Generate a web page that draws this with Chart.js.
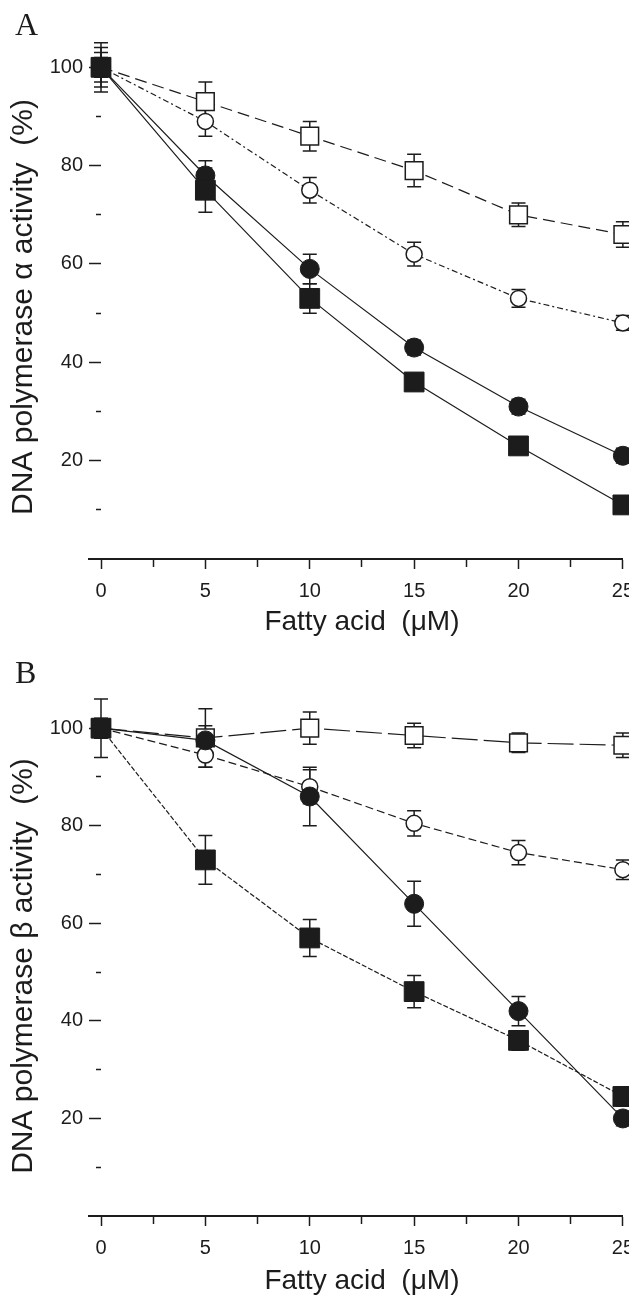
<!DOCTYPE html>
<html>
<head>
<meta charset="utf-8">
<script src="https://cdn.jsdelivr.net/npm/chart.js@4.4.1/dist/chart.umd.min.js"></script>
<style>
  html, body { margin: 0; padding: 0; background: #fff; overflow: hidden; }
  body { width: 629px; height: 1295px; position: relative; }
  .panel { position: absolute; left: 0; }
  .letter { position: absolute; left: 15px; font-family: "Liberation Serif", "DejaVu Serif", serif; font-size: 32px; line-height: 1; color: #1c1c1c; }
</style>
</head>
<body>
<div class="panel" style="top:0"><canvas id="chartA" width="644" height="645"></canvas></div>
<div class="panel" style="top:645px"><canvas id="chartB" width="644" height="655"></canvas></div>
<div class="letter" style="top:8px">A</div>
<div class="letter" style="top:656px">B</div>
<script>
// fatty acid concentration (uM)
var fattyAcid = [0, 5, 10, 15, 20, 25];
var xLabels = [0, 5, 10, 15, 20, 25];
var yLabels = [20, 40, 60, 80, 100];

// panel A - pol alpha activity (%)
var aFilledSq = [100, 75, 53, 36, 23, 11];
var aFilledSqErr = [2, 4.5, 3, 1.5, 1.5, 1];
var aFilledCirc = [100, 78, 59, 43, 31, 21];
var aFilledCircErr = [3, 3, 3, 1.5, 1.5, 1.5];
var aOpenCirc = [100, 89, 75, 62, 53, 48];
var aOpenCircErr = [4, 3, 2.6, 2.4, 1.8, 1.5];
var aOpenSq = [100, 93, 86, 79, 70, 66];
var aOpenSqErr = [5, 4, 3, 3.3, 2.4, 2.6];

// panel B - pol beta activity (%)
var bFilledSq = [100, 73, 57, 46, 36, 24.5];
var bFilledSqErr = [2, 5, 3.8, 3.3, 2, 2];
var bFilledCirc = [100, 97.5, 86, 64, 42, 20];
var bFilledCircErr = [2, 3, 6, 4.6, 3, 1.5];
var bOpenCirc = [100, 94.5, 88, 80.5, 74.5, 71];
var bOpenCircErr = [6, 2.5, 3.5, 2.6, 2.5, 2];
var bOpenSq = [100, 98, 100, 98.5, 97, 96.5];
var bOpenSqErr = [2, 6, 3.3, 2.5, 2, 2.5];

var ink = '#1c1c1c';
var sans = '"Liberation Sans", Arial, sans-serif';

var toPoints = function (values) {
    return values.map(function (v, i) {
        return { x: fattyAcid[i], y: v };
    });
};

// vertical error bars, drawn under the markers
var errorBars = {
    id: 'errorBars',
    beforeDatasetsDraw: function (chart) {
        var ctx = chart.ctx;
        var xs = chart.scales.x, ys = chart.scales.y;
        ctx.save();
        ctx.strokeStyle = ink;
        ctx.lineWidth = 1.5;
        chart.data.datasets.forEach(function (ds) {
            ds.errors.forEach(function (e, i) {
                var px = xs.getPixelForValue(fattyAcid[i]);
                var top = ys.getPixelForValue(ds.values[i] + e);
                var bot = ys.getPixelForValue(ds.values[i] - e);
                ctx.beginPath();
                ctx.moveTo(px, top); ctx.lineTo(px, bot);
                ctx.moveTo(px - 7, top); ctx.lineTo(px + 7, top);
                ctx.moveTo(px - 7, bot); ctx.lineTo(px + 7, bot);
                ctx.stroke();
            });
        });
        ctx.restore();
    }
};

// x axis line runs a little past the y ticks
var axisStub = {
    id: 'axisStub',
    afterDraw: function (chart) {
        var xs = chart.scales.x, ctx = chart.ctx;
        var y = Math.round(xs.top);
        ctx.save();
        ctx.strokeStyle = ink;
        ctx.lineWidth = 2;
        ctx.beginPath();
        ctx.moveTo(xs.left - 13, y);
        ctx.lineTo(xs.left + 1, y);
        ctx.stroke();
        ctx.restore();
    }
};

function makeDatasets(fsq, fsqErr, fci, fciErr, oci, ociErr, osq, osqErr, dashes) {
    var base = { borderColor: ink, borderWidth: 1.2, tension: 0, clip: false, pointBorderColor: ink };
    return [
        Object.assign({}, base, { label: 'filled square', data: toPoints(fsq), values: fsq, errors: fsqErr,
            pointStyle: 'rect', pointRadius: 14, pointBackgroundColor: ink, pointBorderWidth: 1, borderDash: dashes[0] }),
        Object.assign({}, base, { label: 'filled circle', data: toPoints(fci), values: fci, errors: fciErr,
            pointStyle: 'circle', pointRadius: 9.5, pointBackgroundColor: ink, pointBorderWidth: 1, borderDash: dashes[1] }),
        Object.assign({}, base, { label: 'open circle', data: toPoints(oci), values: oci, errors: ociErr,
            pointStyle: 'circle', pointRadius: 8, pointBackgroundColor: '#fff', pointBorderWidth: 1.5, borderDash: dashes[2] }),
        Object.assign({}, base, { label: 'open square', data: toPoints(osq), values: osq, errors: osqErr,
            pointStyle: 'rect', pointRadius: 12.5, pointBackgroundColor: '#fff', pointBorderWidth: 1.5, borderDash: dashes[3] })
    ];
}

function makeChart(id, datasets, yTitle, padTop, xHeight, titlePad) {
    var ctx = document.getElementById(id).getContext('2d');
    return new Chart(ctx, {
        type: 'line',
        data: { datasets: datasets },
        plugins: [errorBars, axisStub],
        options: {
            responsive: false,
            animation: false,
            layout: { padding: { top: padTop, right: 6, left: 0, bottom: 0 } },
            plugins: { legend: { display: false }, tooltip: { enabled: false } },
            scales: {
                x: {
                    type: 'linear', min: 0, max: 25,
                    afterFit: function (s) { s.height = xHeight; },
                    border: { display: true, color: ink, width: 2 },
                    grid: {
                        drawOnChartArea: false, tickLength: 10, tickWidth: 1.5, tickColor: ink,
                        tickBorderDash: function (c) { return c.tick.value % 5 === 0 ? [] : [7, 100]; }
                    },
                    ticks: {
                        stepSize: 2.5, autoSkip: false, maxRotation: 0, padding: 10, color: ink,
                        font: { family: sans, size: 20 },
                        callback: function (v) { return xLabels.indexOf(v) >= 0 ? String(v) : ''; }
                    },
                    title: {
                        display: true, text: 'Fatty acid  (μM)', color: ink,
                        font: { family: sans, size: 28 }, padding: { top: 0, bottom: titlePad }
                    }
                },
                y: {
                    min: 0, max: 102.5,
                    afterFit: function (s) { s.width = 101; },
                    border: { display: false },
                    grid: {
                        drawOnChartArea: false, tickLength: 12, tickWidth: 1.5,
                        tickColor: function (c) { return c.tick.value === 0 ? 'rgba(0,0,0,0)' : ink; },
                        tickBorderDash: function (c) { return c.tick.value % 20 === 0 ? [] : [0, 7, 5, 100]; }
                    },
                    ticks: {
                        stepSize: 10, includeBounds: false, autoSkip: false, padding: 6, color: ink,
                        font: { family: sans, size: 20 },
                        callback: function (v) { return yLabels.indexOf(v) >= 0 ? String(v) : ''; }
                    },
                    title: {
                        display: true, text: yTitle, color: ink,
                        font: { family: sans, size: 30 }, padding: { top: 6, bottom: 0 }
                    }
                }
            }
        }
    });
}

window.chartA = makeChart('chartA',
    makeDatasets(aFilledSq, aFilledSqErr, aFilledCirc, aFilledCircErr, aOpenCirc, aOpenCircErr, aOpenSq, aOpenSqErr,
        [[], [], [6, 3, 2, 3], [12, 6]]),
    'DNA polymerase α activity  (%)', 55, 86, 6);

window.chartB = makeChart('chartB',
    makeDatasets(bFilledSq, bFilledSqErr, bFilledCirc, bFilledCircErr, bOpenCirc, bOpenCircErr, bOpenSq, bOpenSqErr,
        [[5, 2], [], [8, 4], [26, 6]]),
    'DNA polymerase β activity  (%)', 71, 84, 2);
</script>
</body>
</html>
